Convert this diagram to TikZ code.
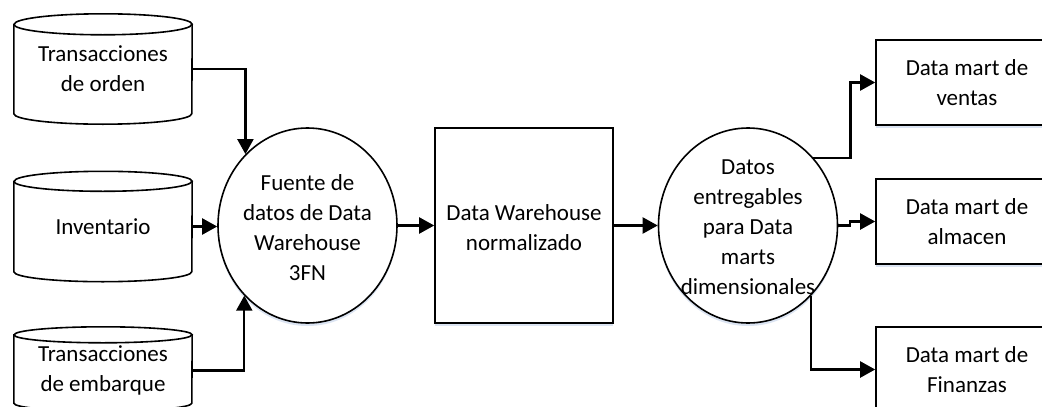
\documentclass[tikz,border=0pt]{standalone}
\usepackage{fontspec}
\setmainfont{Carlito}
\usetikzlibrary{arrows.meta,shapes.geometric,shadows,calc}
\definecolor{shadowblue}{RGB}{196,210,234}
\begin{document}
\begin{tikzpicture}[x=1pt,y=-1pt,
  every node/.style={font=\fontsize{23}{30}\selectfont},
  shapeline/.style={line width=1.6pt, draw=black},
  softshadow/.style={drop shadow={shadow xshift=0pt,shadow yshift=-3pt,fill=shadowblue,opacity=.6}},
  cylbox/.style={rectangle, inner sep=0pt, minimum width=178pt, align=center},
  ell/.style={ellipse, shapeline, fill=white, softshadow, inner sep=0pt, minimum width=179pt, minimum height=195pt},
  box/.style={rectangle, shapeline, fill=white, softshadow, inner sep=0pt, align=center},
  txt/.style={align=center, inner sep=0pt},
  conn/.style={line width=2.2pt, -{Triangle[length=15pt,width=16pt]}},
]
\useasboundingbox (0,0) rectangle (1042,407);
\fill[white] (0,0) rectangle (1042,407);
\clip (0,0) rectangle (1042,407);

% cylinders (text nodes define their extent)
\node[cylbox, minimum height=110pt] (c1) at (103,69) {Transacciones\\de orden};
\node[cylbox, minimum height=110pt] (c2) at (103,226.5) {Inventario};
\node[cylbox, minimum height=84pt] (c3) at (103,369) {Transacciones\\de embarque};

\foreach \c/\r in {c1/10.5,c2/10,c3/8}{
  % shadow
  \fill[shadowblue,opacity=.6,yshift=-3pt]
    ([yshift=-\r pt]\c.north west) -- ([yshift=\r pt]\c.south west)
    arc[start angle=180,end angle=360,x radius=89pt,y radius=\r pt]
    -- ([yshift=-\r pt]\c.north east)
    arc[start angle=0,end angle=180,x radius=89pt,y radius=\r pt] -- cycle;
  % body
  \filldraw[shapeline, fill=white]
    ([yshift=-\r pt]\c.north west) -- ([yshift=\r pt]\c.south west)
    arc[start angle=180,end angle=360,x radius=89pt,y radius=\r pt]
    -- ([yshift=-\r pt]\c.north east)
    arc[start angle=0,end angle=180,x radius=89pt,y radius=\r pt] -- cycle;
  \draw[shapeline] ([yshift=-\r pt]\c.north west)
    arc[start angle=180,end angle=360,x radius=89pt,y radius=\r pt];
}
% redraw cylinder texts on top
\node[txt] (c1t) at (c1) {Transacciones\\de orden};
\node[txt] (c2t) at (c2) {Inventario};
\node[txt] (c3t) at ([yshift=-1pt]c3) {Transacciones\\de embarque};

% ellipse 1
\node[ell] (e1) at (307.5,225.5) {};
\node[txt] (e1t) at ([yshift=-2pt]e1.center) {Fuente de\\datos de Data\\Warehouse\\3FN};

% middle rectangle
\node[box, minimum width=178pt, minimum height=195pt] (dw) at (524,225.5) {};
\node[txt] (dwt) at ([yshift=-2pt]dw.center) {Data Warehouse\\normalizado};

% ellipse 2
\node[ell] (e2) at (748,225.5) {};
\node[txt] (e2t) at ([yshift=-2pt]e2.center) {Datos\\entregables\\para Data\\marts\\dimensionales};

% data marts
\node[box, minimum width=182pt, minimum height=85pt] (m1) at (967,82.5) {Data mart de\\ventas};
\node[box, minimum width=182pt, minimum height=85pt] (m2) at (967,221.5) {Data mart de\\almacen};
\node[box, minimum width=182pt, minimum height=85pt] (m3) at (967,369.5) {Data mart de\\Finanzas};

% connectors
\draw[conn] (c1.east) -| (e1.131.8);
\draw[conn] (c2.east) -- (c2.east -| e1.west);
\draw[conn] ([yshift=-1.5pt]c3.east) -| (e1.228.2);
\draw[conn] (e1.east) -- (dw.west);
\draw[conn] (dw.east) -- (e2.west);
\draw[conn] (e2.46.7) -- ++(37,0) |- (m1.west);
\draw[conn] (e2.east) -- ++(12,0) |- (m2.west);
\draw[conn] (e2.312.4) |- (m3.west);
\end{tikzpicture}
\end{document}
